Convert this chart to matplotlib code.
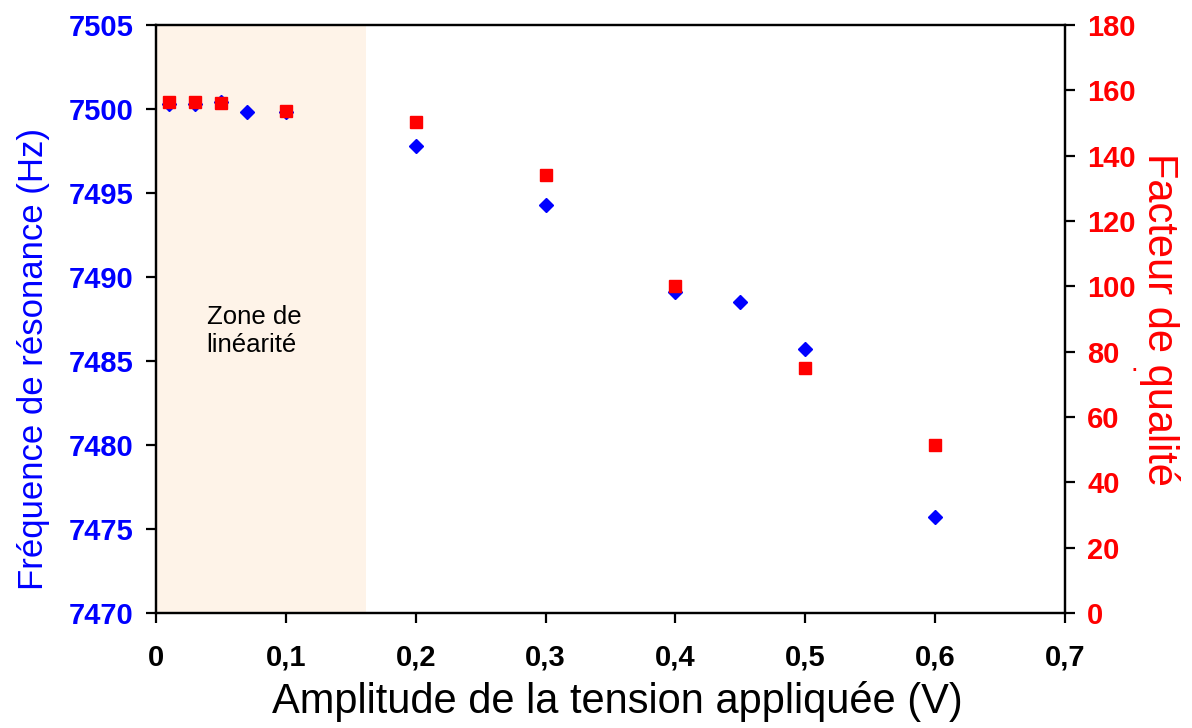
import matplotlib
matplotlib.use('Agg')
import matplotlib.pyplot as plt
from matplotlib.ticker import FuncFormatter

plt.rcParams['font.family'] = ['Liberation Sans', 'DejaVu Sans']

# amplitude (V), resonance frequency (Hz), quality factor
amp_f = [0.01, 0.03, 0.05, 0.07, 0.10, 0.20, 0.30, 0.40, 0.45, 0.50, 0.60]
freq = [7500.3, 7500.3, 7500.4, 7499.8, 7499.8, 7497.8, 7494.3, 7489.1, 7488.5, 7485.7, 7475.7]

amp_q = [0.01, 0.03, 0.05, 0.10, 0.20, 0.30, 0.40, 0.50, 0.60]
qual = [156.4, 156.3, 156.0, 153.7, 150.2, 134.0, 100.0, 75.0, 51.3]

x_ticks = [0, 0.1, 0.2, 0.3, 0.4, 0.5, 0.6, 0.7]
f_ticks = [7470, 7475, 7480, 7485, 7490, 7495, 7500, 7505]
q_ticks = [0, 20, 40, 60, 80, 100, 120, 140, 160, 180]

BLUE = '#0000FF'
RED = '#FF0000'

fig = plt.figure(figsize=(11.92, 7.28), dpi=100)
ax = fig.add_axes([0.1309, 0.158, 0.7626, 0.8077])
ax2 = ax.twinx()

# zone de linearite
ax.axvspan(0, 0.162, color='#FEF3E8', zorder=0, lw=0)
ax.text(0.039, 7486.8, 'Zone de\nlinéarité', fontsize=18.5, color='black',
        ha='left', va='center', linespacing=1.2)

ax.plot(amp_f, freq, linestyle='none', marker='D', markersize=7, color=BLUE, zorder=3)
ax2.plot(amp_q, qual, linestyle='none', marker='s', markersize=8, color=RED, zorder=3)

ax.set_xlim(0, 0.7)
ax.set_ylim(7470, 7505)
ax2.set_ylim(0, 180)
ax.set_xticks(x_ticks)
ax.set_yticks(f_ticks)
ax2.set_yticks(q_ticks)
ax.xaxis.set_major_formatter(FuncFormatter(lambda v, p: '0' if v == 0 else ('%.1f' % v).replace('.', ',')))

for a in (ax, ax2):
    for s in a.spines.values():
        s.set_linewidth(1.6)
        s.set_color('black')

ax.tick_params(axis='x', direction='out', length=7, width=1.6, pad=15, labelsize=21, colors='black')
ax.tick_params(axis='y', direction='out', length=7, width=1.6, pad=9, labelsize=21, labelcolor=BLUE)
ax2.tick_params(axis='y', direction='out', length=7, width=1.6, pad=9, labelsize=21, labelcolor=RED)
for lab in ax.get_xticklabels() + ax.get_yticklabels() + ax2.get_yticklabels():
    lab.set_fontweight('bold')

ax.set_xlabel('Amplitude de la tension appliquée (V)', fontsize=30, labelpad=4)
ax.xaxis.set_label_coords(0.5075, -0.115)
ax.set_ylabel('Fréquence de résonance (Hz)', fontsize=25, color=BLUE)
ax.yaxis.set_label_coords(-0.117, 0.432)
ax2.set_ylabel('Facteur de qualité', fontsize=30, color=RED, rotation=270, labelpad=32)
fig.text(0.952, 0.5, '.', fontsize=20, color=RED, ha='center', va='center')

fig.savefig('out.png', dpi=100)
